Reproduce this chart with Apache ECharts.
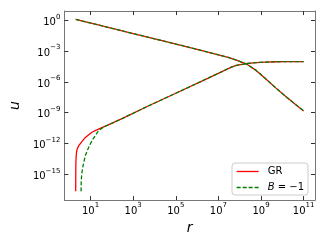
<!DOCTYPE html>
<html>
<head>
<meta charset="utf-8">
<script src="https://cdn.jsdelivr.net/npm/echarts@6/dist/echarts.min.js"></script>
<style>
  html, body { margin: 0; padding: 0; background: #fff; }
  #chart { width: 320px; height: 240px; }
</style>
</head>
<body>
<div id="chart"></div>
<script>
// all values are log10 of r and u
const decayLogR = [0.301, 1.5, 3.0, 4.5, 6.0, 7.0, 7.5, 7.9, 8.3, 8.77, 9.23, 9.69, 10.15, 10.62, 11.0];
const decayLogU = [0.08, -0.53, -1.30, -2.06, -2.83, -3.36, -3.64, -3.92, -4.24, -4.88, -5.71, -6.58, -7.39, -8.19, -8.83];

const grLogR = [0.3012, 0.302, 0.3035, 0.306, 0.31, 0.32, 0.34, 0.37, 0.445, 0.6, 0.755, 1.06, 1.37, 1.83, 2.5, 3.68, 5.0, 6.5, 7.61, 7.84, 8.3, 8.77, 9.23, 9.69, 10.15, 10.62, 11.0];
const grLogU = [-16.65, -15.8, -15.0, -14.3, -13.8, -13.3, -12.85, -12.52, -12.2, -11.78, -11.4, -10.9, -10.6, -10.18, -9.55, -8.37, -7.1, -5.65, -4.56, -4.40, -4.22, -4.12, -4.07, -4.04, -4.03, -4.02, -4.02];

const bLogR = [0.552, 0.56, 0.58, 0.6, 0.65, 0.755, 0.86, 0.986, 1.1, 1.217, 1.37, 1.6, 1.83, 2.5, 3.68, 5.0, 6.5, 7.61, 7.84, 8.3, 8.77, 9.23, 9.69, 10.15, 10.62, 11.0];
const bLogU = [-16.65, -15.7, -15.1, -14.74, -14.1, -13.17, -12.6, -12.04, -11.6, -11.24, -10.75, -10.4, -10.18, -9.55, -8.37, -7.1, -5.65, -4.56, -4.40, -4.22, -4.12, -4.07, -4.04, -4.03, -4.02, -4.02];

const xTickExp = [1, 3, 5, 7, 9, 11];
const yTickExp = [0, -3, -6, -9, -12, -15];

const FONT = "DejaVu Sans";
const LINE_W = 1.3;

function pairs(xs, ys) {
  return xs.map((x, i) => [x, ys[i]]);
}

function powLabel(v) {
  const e = v < 0 ? "\u2212" + (-v) : String(v);
  return "{b|10}{e|" + e + "}";
}

const richPow = {
  b: { fontFamily: FONT, fontSize: 10, color: "#000", lineHeight: 14, verticalAlign: "bottom" },
  e: { fontFamily: FONT, fontSize: 7, color: "#000", lineHeight: 14, verticalAlign: "top" },
};

const axisLineStyle = { color: "#777", width: 1 };
const tickStyle = { color: "#333", width: 1 };

function xAx(pos, labels) {
  return {
    type: "value",
    position: pos,
    min: -0.23,
    max: 11.535,
    axisLine: { show: true, onZero: false, lineStyle: axisLineStyle },
    axisTick: { show: true, inside: true, length: 4, customValues: xTickExp, lineStyle: tickStyle },
    axisLabel: labels
      ? { show: true, customValues: xTickExp, margin: 2, formatter: powLabel, rich: richPow }
      : { show: false },
    splitLine: { show: false },
  };
}

function yAx(pos, labels) {
  return {
    type: "value",
    position: pos,
    min: -17.5,
    max: 0.9,
    axisLine: { show: true, onZero: false, lineStyle: axisLineStyle },
    axisTick: { show: true, inside: true, length: 4, customValues: yTickExp, lineStyle: tickStyle },
    axisLabel: labels
      ? { show: true, customValues: yTickExp, margin: 4, formatter: powLabel, rich: richPow }
      : { show: false },
    splitLine: { show: false },
  };
}

function curve(name, data, color, dashed) {
  return {
    name: name,
    type: "line",
    data: data,
    symbol: "none",
    showSymbol: false,
    smooth: false,
    lineStyle: { color: color, width: LINE_W, type: dashed ? [4, 2] : "solid" },
    itemStyle: { color: color },
    emphasis: { disabled: true },
  };
}

const chart = echarts.init(document.getElementById("chart"), null, { renderer: "canvas" });

const bottomX = xAx("bottom", true);
bottomX.name = "r";
bottomX.nameLocation = "middle";
bottomX.nameGap = 10;
bottomX.nameTextStyle = { fontFamily: FONT, fontSize: 14, fontStyle: "italic", color: "#000" };

const leftY = yAx("left", true);
leftY.name = "u";
leftY.nameLocation = "middle";
leftY.nameRotate = 90;
leftY.nameGap = 40;
leftY.nameTextStyle = { fontFamily: FONT, fontSize: 14, fontStyle: "italic", color: "#000" };

chart.setOption({
  animation: false,
  backgroundColor: "#fff",
  grid: { left: 61, right: 5, top: 11, bottom: 38 },
  xAxis: [bottomX, xAx("top", false)],
  yAxis: [leftY, yAx("right", false)],
  legend: {
    data: ["GR", "B=-1"],
    orient: "vertical",
    left: 232,
    top: 163,
    itemWidth: 22,
    itemHeight: 10,
    itemGap: 5,
    padding: [3, 4, 2, 4],
    backgroundColor: "rgba(255,255,255,0.8)",
    borderColor: "#cccccc",
    borderWidth: 1,
    borderRadius: 3,
    selectedMode: false,
    itemStyle: { opacity: 0 },
    lineStyle: { width: LINE_W },
    formatter: (name) => (name === "B=-1" ? "{i|B} = \u22121" : name),
    textStyle: {
      fontFamily: FONT,
      fontSize: 10,
      color: "#000",
      lineHeight: 11,
      padding: [0, 0, 0, 4],
      rich: {
        i: { fontFamily: FONT, fontSize: 10, fontStyle: "italic", color: "#000" },
      },
    },
  },
  series: [
    curve("GR", pairs(decayLogR, decayLogU), "#ff0000", false),
    curve("GR", pairs(grLogR, grLogU), "#ff0000", false),
    curve("B=-1", pairs(decayLogR, decayLogU), "#008000", true),
    curve("B=-1", pairs(bLogR, bLogU), "#008000", true),
  ],
});
</script>
</body>
</html>
